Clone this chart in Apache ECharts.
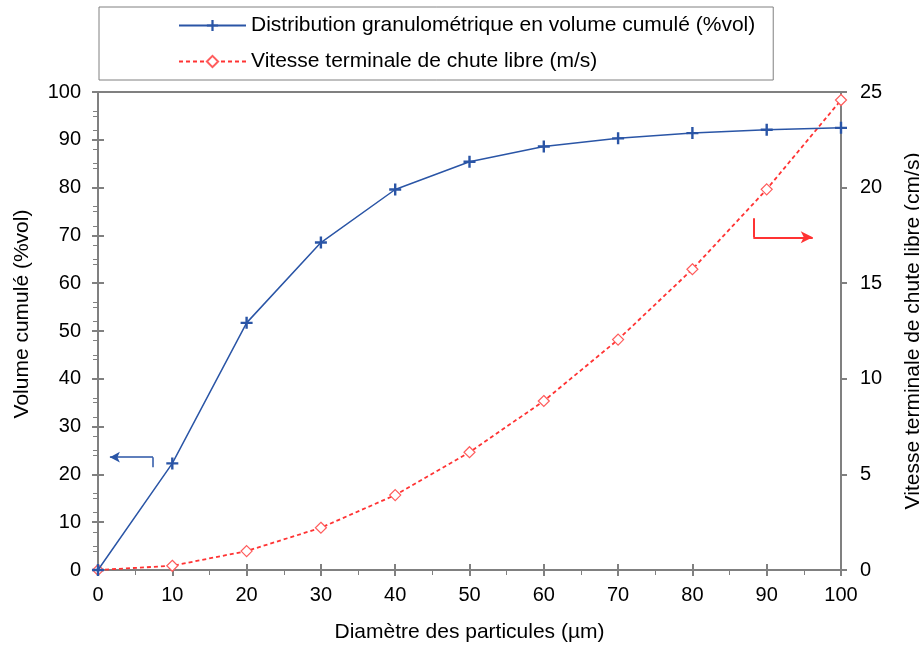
<!DOCTYPE html>
<html>
<head>
<meta charset="utf-8">
<script src="https://cdn.jsdelivr.net/npm/echarts@6/dist/echarts.min.js"></script>
<style>
    html, body { margin: 0; padding: 0; background: #fff; }
    #main { width: 919px; height: 646px; }
</style>
</head>
<body>
<div id="main"></div>
<script>
    // 数据
    var diametres = [0, 10, 20, 30, 40, 50, 60, 70, 80, 90, 100];
    var volumeCumule = [0, 22.3, 51.7, 68.5, 79.6, 85.4, 88.6, 90.3, 91.4, 92.1, 92.5];
    var vitesseChute = [0, 0.22, 0.99, 2.21, 3.92, 6.16, 8.84, 12.05, 15.73, 19.91, 24.58];

    var nomVolume = 'Distribution granulométrique en volume cumulé (%vol)';
    var nomVitesse = 'Vitesse terminale de chute libre (m/s)';

    var BLUE = '#2a55a6';
    var RED = '#ff3333';
    var GRIS = '#808080';
    var FONT = 'Liberation Sans, Arial, sans-serif';

    function paires(xs, ys) {
        var out = [];
        for (var i = 0; i < xs.length; i++) {
            out.push([xs[i], ys[i]]);
        }
        return out;
    }

    // "+" rempli
    var plusPath = 'path://M4,0 H6 V4 H10 V6 H6 V10 H4 V6 H0 V4 H4 Z';

    var myChart = echarts.init(document.getElementById('main'));
    var option = {
        animation: false,
        textStyle: { fontFamily: FONT },
        grid: {
            left: 98,
            right: 78,
            top: 92,
            bottom: 76,
            outerBoundsMode: 'none',
            show: true,
            borderColor: GRIS,
            borderWidth: 2,
            backgroundColor: 'transparent'
        },
        legend: {
            orient: 'vertical',
            left: 99,
            top: 7,
            padding: [8, 18, 8, 79],
            itemGap: 15,
            itemWidth: 67,
            itemHeight: 14,
            borderColor: GRIS,
            borderWidth: 1,
            textStyle: { color: '#000', fontSize: 21, fontFamily: FONT },
            data: [nomVolume, nomVitesse]
        },
        xAxis: [{
            type: 'value',
            position: 'bottom',
            min: 0,
            max: 100,
            interval: 10,
            name: 'Diamètre des particules (µm)',
            nameLocation: 'middle',
            nameGap: 52,
            nameTextStyle: { color: '#000', fontSize: 21 },
            axisLine: { show: true, lineStyle: { color: GRIS, width: 2 } },
            axisTick: { show: true, length: 6, lineStyle: { color: GRIS, width: 2 } },
            minorTick: { show: true, splitNumber: 2, length: 5, lineStyle: { color: GRIS, width: 1 } },
            axisLabel: { color: '#000', fontSize: 20, margin: 15 },
            splitLine: { show: false }
        }, {
            // tics croisés (partie intérieure)
            type: 'value',
            position: 'bottom',
            offset: 0,
            min: 0,
            max: 100,
            interval: 10,
            axisLine: { show: false },
            axisTick: { show: true, inside: true, length: 6, lineStyle: { color: GRIS, width: 2 } },
            axisLabel: { show: false },
            splitLine: { show: false }
        }],
        yAxis: [{
            type: 'value',
            position: 'left',
            min: 0,
            max: 100,
            interval: 10,
            name: 'Volume cumulé (%vol)',
            nameLocation: 'middle',
            nameGap: 65,
            nameTextStyle: { color: '#000', fontSize: 21, padding: [0, 0, 0, 34] },
            axisLine: { show: true, lineStyle: { color: GRIS, width: 2 } },
            axisTick: { show: true, length: 6, lineStyle: { color: GRIS, width: 2 } },
            minorTick: { show: true, splitNumber: 2, length: 5, lineStyle: { color: GRIS, width: 1 } },
            axisLabel: { color: '#000', fontSize: 20, margin: 17 },
            splitLine: { show: false }
        }, {
            type: 'value',
            position: 'right',
            min: 0,
            max: 25,
            interval: 5,
            name: 'Vitesse terminale de chute libre (cm/s)',
            nameLocation: 'middle',
            nameGap: 62,
            nameRotate: 90,
            nameTextStyle: { color: '#000', fontSize: 21 },
            axisLine: { show: true, lineStyle: { color: GRIS, width: 2 } },
            axisTick: { show: true, inside: true, length: 6, lineStyle: { color: GRIS, width: 2 } },
            minorTick: { show: true, splitNumber: 5, length: 5, lineStyle: { color: GRIS, width: 1 } },
            axisLabel: { color: '#000', fontSize: 20, margin: 19 },
            splitLine: { show: false }
        }, {
            type: 'value',
            position: 'left',
            offset: 0,
            min: 0,
            max: 100,
            interval: 10,
            axisLine: { show: false },
            axisTick: { show: true, inside: true, length: 6, lineStyle: { color: GRIS, width: 2 } },
            axisLabel: { show: false },
            splitLine: { show: false }
        }, {
            type: 'value',
            position: 'right',
            offset: 0,
            min: 0,
            max: 25,
            interval: 5,
            axisLine: { show: false },
            axisTick: { show: true, length: 6, lineStyle: { color: GRIS, width: 2 } },
            axisLabel: { show: false },
            splitLine: { show: false }
        }],
        series: [{
            name: nomVolume,
            type: 'line',
            xAxisIndex: 0,
            yAxisIndex: 0,
            data: paires(diametres, volumeCumule),
            symbol: plusPath,
            symbolSize: 12,
            showAllSymbol: true,
            lineStyle: { color: BLUE, width: 1.5 },
            itemStyle: { color: BLUE },
            z: 3,
            markLine: {
                silent: true,
                animation: false,
                symbol: ['none', 'arrow'],
                symbolSize: [8, 10],
                label: { show: false },
                lineStyle: { color: BLUE, width: 1.5, type: 'solid' },
                data: [
                    [{ coord: [7.4, 21.5], symbol: 'none' }, { coord: [7.4, 23.6], symbol: 'none' }],
                    [{ coord: [7.4, 23.6], symbol: 'none' }, { coord: [1.6, 23.6] }]
                ]
            }
        }, {
            name: nomVitesse,
            type: 'line',
            xAxisIndex: 0,
            yAxisIndex: 1,
            data: paires(diametres, vitesseChute),
            symbol: 'diamond',
            symbolSize: [11, 11],
            showAllSymbol: true,
            lineStyle: { color: RED, width: 1.8, type: [4, 3] },
            itemStyle: { color: '#fff', borderColor: '#ff5c5c', borderWidth: 1.2 },
            z: 2,
            markLine: {
                silent: true,
                animation: false,
                symbol: ['none', 'arrow'],
                symbolSize: [9, 12],
                label: { show: false },
                lineStyle: { color: RED, width: 2, type: 'solid' },
                data: [
                    [{ coord: [88.2, 18.4], symbol: 'none' }, { coord: [88.2, 17.4], symbol: 'none' }],
                    [{ coord: [88.2, 17.4], symbol: 'none' }, { coord: [96.2, 17.4] }]
                ]
            }
        }]
    };
    myChart.setOption(option);
</script>
</body>
</html>
